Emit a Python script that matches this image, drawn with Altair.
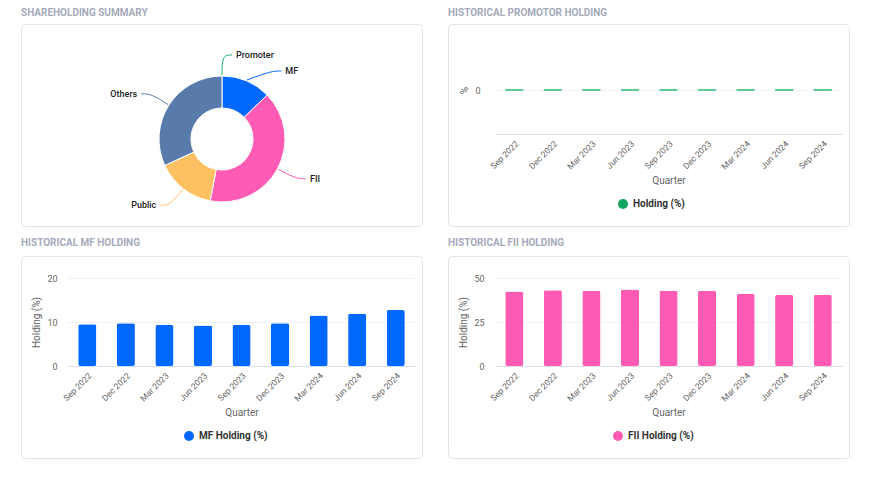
import altair as alt
import pandas as pd

# ---------------- data ----------------
quarters = ["Sep 2022", "Dec 2022", "Mar 2023", "Jun 2023", "Sep 2023",
            "Dec 2023", "Mar 2024", "Jun 2024", "Sep 2024"]
promoter_holding = [0, 0, 0, 0, 0, 0, 0, 0, 0]
mf_holding = [9.5, 9.7, 9.3, 9.2, 9.3, 9.7, 11.5, 11.9, 12.7]
fii_holding = [42.4, 43.0, 42.8, 43.4, 42.8, 42.8, 40.9, 40.3, 40.3]

summary_categories = ["Promoter", "MF", "FII", "Public", "Others"]
summary_values = [0.0, 12.7, 40.3, 15.1, 31.9]
summary_colors = ["#17a865", "#0068ff", "#ff5bb4", "#ffc061", "#587bab"]

# ---------------- styles ----------------
FONT = "Roboto"
TITLE_COLOR = "#a5aabb"
CARD_STROKE = "#e4e4e4"
AXIS_TEXT = "#666666"

card_df = pd.DataFrame({"card": [1]})


def card():
    return alt.Chart(card_df).mark_rect(
        fill="transparent", stroke=CARD_STROKE, strokeWidth=1, cornerRadius=4
    ).encode(
        x=alt.value(-46.5), x2=alt.value(354.5),
        y=alt.value(-21.5), y2=alt.value(180.5),
    )


def section_title(text, offset):
    return alt.TitleParams(
        text=text, anchor="start", frame="bounds", fontSize=10,
        fontWeight="bold", color=TITLE_COLOR, font=FONT, offset=offset,
    )


# ---------------- donut ----------------
pie_df = pd.DataFrame({
    "Category": summary_categories,
    "Value": summary_values,
    "order": list(range(len(summary_categories))),
})
pie_color = alt.Color("Category:N", scale=alt.Scale(domain=summary_categories, range=summary_colors), legend=None)
pie_base = alt.Chart(pie_df)

arcs = pie_base.mark_arc(innerRadius=31, outerRadius=63, stroke="white", strokeWidth=1).encode(
    theta=alt.Theta("Value:Q", stack=True),
    color=pie_color,
    order=alt.Order("order:Q"),
)

# leader lines: radial start on the ring, label circle of radius 84,
# labels on each side pushed apart by at least 16px (ECharts-like layout)
leader_base = pie_base.transform_joinaggregate(
    total="sum(Value)"
).transform_window(
    cum="sum(Value)", sort=[alt.SortField("order")], frame=[None, 0]
).transform_calculate(
    mid="2*PI*(datum.cum - datum.Value/2)/datum.total",
).transform_calculate(
    side="sin(datum.mid) < -0.001 ? -1 : 1",
    ly0="84*cos(datum.mid)",
).transform_window(
    prev="lag(ly0)", groupby=["side"], sort=[alt.SortField("ly0", order="descending")]
).transform_calculate(
    lyadj="datum.prev == null ? datum.ly0 : min(datum.ly0, datum.prev - 16)",
).transform_calculate(
    lx1="datum.side*sqrt(max(84*84 - datum.lyadj*datum.lyadj, 0))",
    pts="[0, 1, 2]",
).transform_flatten(
    ["pts"], as_=["pt"]
).transform_calculate(
    lx="datum.pt == 0 ? 64*sin(datum.mid) : (datum.pt == 1 ? datum.lx1 : datum.lx1 + datum.side*10)",
    ly="datum.pt == 0 ? 64*cos(datum.mid) : datum.lyadj",
)

px = alt.X("lx:Q", scale=alt.Scale(domain=[-154, 154], nice=False, zero=False), axis=None)
py = alt.Y("ly:Q", scale=alt.Scale(domain=[-93, 93], nice=False, zero=False), axis=None)

leaders = leader_base.mark_line(strokeWidth=1, interpolate="basis").encode(
    x=px, y=py, color=pie_color, detail="Category:N", order="pt:Q",
)

label_base = leader_base.transform_filter("datum.pt == 2").transform_calculate(
    tx="datum.lx + datum.side*4"
)
tx = alt.X("tx:Q", scale=alt.Scale(domain=[-154, 154], nice=False, zero=False), axis=None)
labels_r = label_base.transform_filter("datum.side > 0").mark_text(
    align="left", baseline="middle", fontSize=9, fontWeight=500, color="#222222", font=FONT
).encode(x=tx, y=py, text="Category:N")
labels_l = label_base.transform_filter("datum.side < 0").mark_text(
    align="right", baseline="middle", fontSize=9, fontWeight=500, color="#222222", font=FONT
).encode(x=tx, y=py, text="Category:N")

donut_panel = alt.layer(card(), arcs, leaders, labels_r, labels_l).properties(
    width=308, height=186, title=section_title("SHAREHOLDING SUMMARY", 6)
)


# ---------------- bar panels ----------------
def bar_panel(values, series, color, ydomain, yvalues, ytitle, title, legend_x,
              title_offset, label_pad=11, promoter=False):
    df = pd.DataFrame({"Quarter": quarters, "Holding": values, "Series": series})
    x = alt.X(
        "Quarter:N", sort=quarters, title="Quarter",
        scale=alt.Scale(paddingInner=0.53, paddingOuter=0.265),
        axis=alt.Axis(labelAngle=-45, labelFontSize=8.5, labelColor=AXIS_TEXT, ticks=False,
                      domainColor="#d8ddeb", labelPadding=5, grid=False,
                      titleFontSize=10, titleFontWeight="normal", titleColor=AXIS_TEXT,
                      titlePadding=5, labelFont=FONT, titleFont=FONT),
    )
    y = alt.Y(
        "Holding:Q", title=ytitle,
        scale=alt.Scale(domain=ydomain, nice=False),
        axis=alt.Axis(values=yvalues, grid=True, gridColor="#f1f1f1", domain=False, ticks=False,
                      labelFontSize=9, labelColor=AXIS_TEXT, labelPadding=label_pad,
                      titleFontSize=10, titleFontWeight="normal", titleColor=AXIS_TEXT,
                      titlePadding=5, labelFont=FONT, titleFont=FONT),
    )
    col = alt.Color(
        "Series:N", scale=alt.Scale(domain=[series], range=[color]),
        legend=alt.Legend(orient="none", legendX=legend_x, legendY=153, title=None,
                          symbolType="circle", symbolSize=100, symbolStrokeWidth=0,
                          labelFontSize=10, labelFontWeight="bold", labelColor="#333333",
                          labelOffset=5, padding=0, labelFont=FONT),
    )
    if promoter:
        mark = alt.Chart(df).mark_bar(stroke="#2ebc78", strokeWidth=1.5)
    else:
        mark = alt.Chart(df).mark_bar(cornerRadius=2)
    bars = mark.encode(x=x, y=y, color=col)
    return alt.layer(card(), bars).properties(
        width=347, height=88, title=section_title(title, title_offset)
    )


promoter_panel = bar_panel(promoter_holding, "Holding (%)", "#12a562", [-1, 1], [0], "%",
                           "HISTORICAL PROMOTOR HOLDING", 123, 6, label_pad=15, promoter=True)
mf_panel = bar_panel(mf_holding, "MF Holding (%)", "#0068ff", [0, 20], [0, 10, 20], "Holding (%)",
                     "HISTORICAL MF HOLDING", 116, 8)
fii_panel = bar_panel(fii_holding, "FII Holding (%)", "#ff5bb4", [0, 50], [0, 25, 50], "Holding (%)",
                      "HISTORICAL FII HOLDING", 118, 8)

chart = alt.concat(
    donut_panel, promoter_panel, mf_panel, fii_panel,
    columns=2, spacing={"row": 46, "column": 80}, bounds="flush", align="each",
).resolve_scale(
    color="independent"
).resolve_legend(
    color="independent"
).configure(
    font=FONT, padding={"left": 13, "top": 0, "right": 10, "bottom": 10}
).configure_view(strokeWidth=0)

chart.save("out.html", embed_options={"renderer": "svg", "actions": False})
